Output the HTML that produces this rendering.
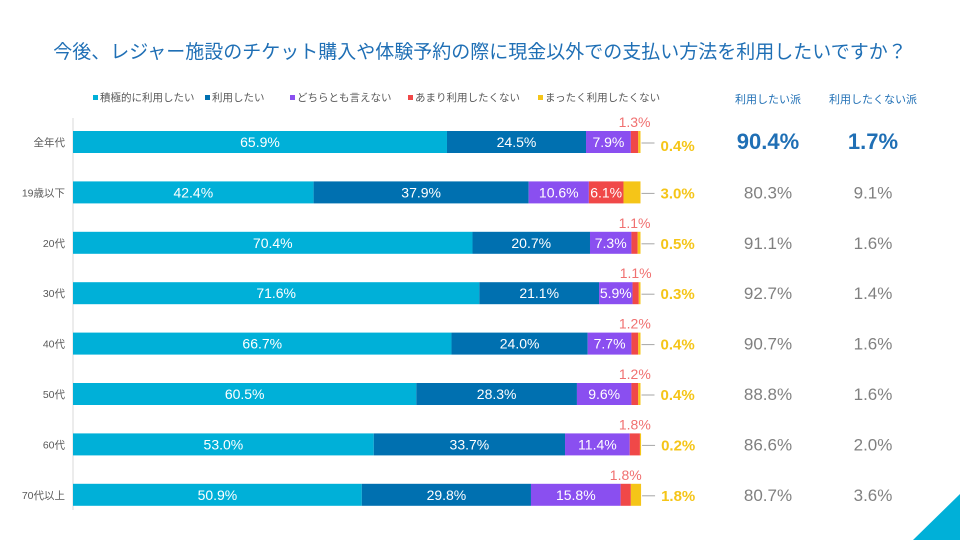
<!DOCTYPE html>
<html><head><meta charset="utf-8">
<style>
body{margin:0;background:#fff;}
svg{display:block;font-family:"Liberation Sans","Noto Sans CJK JP",sans-serif;}
</style></head>
<body>
<svg id="c" width="960" height="540">
<text x="480" y="58" text-anchor="middle" font-size="19" fill="#1f6fb5">今後、レジャー施設のチケット購入や体験予約の際に現金以外での支払い方法を利用したいですか？</text>
<text x="768" y="103" text-anchor="middle" font-size="11" fill="#1f6fb5">利用したい派</text>
<text x="873" y="103" text-anchor="middle" font-size="11" fill="#1f6fb5">利用したくない派</text>
<line x1="73" y1="118" x2="73" y2="510" stroke="#d9d9d9"/>
<polygon points="913,540 960,540 960,494" fill="#00b0d8"/>
<g id="legend"></g>
<g id="bars"></g>
</svg>
<script>
const categories=["全年代","19歳以下","20代","30代","40代","50代","60代","70代以上"];
const s1=[65.9,42.4,70.4,71.6,66.7,60.5,53.0,50.9];
const s2=[24.5,37.9,20.7,21.1,24.0,28.3,33.7,29.8];
const s3=[7.9,10.6,7.3,5.9,7.7,9.6,11.4,15.8];
const s4=[1.3,6.1,1.1,1.1,1.2,1.2,1.8,1.8];
const s5=[0.4,3.0,0.5,0.3,0.4,0.4,0.2,1.8];
const wantPct=[90.4,80.3,91.1,92.7,90.7,88.8,86.6,80.7];
const notPct=[1.7,9.1,1.6,1.4,1.6,1.6,2.0,3.6];
const seriesNames=["積極的に利用したい","利用したい","どちらとも言えない","あまり利用したくない","まったく利用したくない"];
const colors=["#00b0d8","#0070b0","#8a4ff0","#f04848","#f5c518"];
const NS="http://www.w3.org/2000/svg";
const x0=73,pxPer=5.675;
const xs=v=>v*pxPer;
const yc=i=>142+i*50.4;
function el(tag,attrs,parent,txt){const e=document.createElementNS(NS,tag);for(const k in attrs)e.setAttribute(k,attrs[k]);if(txt!==undefined)e.textContent=txt;parent.appendChild(e);return e;}
const lg=document.getElementById('legend');
const lx=[93,205,290,408,538];
seriesNames.forEach((n,j)=>{
 const r=el('rect',{x:lx[j],y:95,width:5,height:5,fill:colors[j]},lg);
 
 
 const t=el('text',{x:lx[j]+7,y:101,'font-size':10.5,fill:'#595959'},lg,n);
 
 
});
const g=document.getElementById('bars');
const series=[s1,s2,s3,s4,s5];
categories.forEach((c,i)=>{
 const y=yc(i),h=22;
 const t=el('text',{x:65,y:y+4,'text-anchor':'end','font-size':10.5,fill:'#595959'},g,c);
 
 
 let cx=x0;
 series.forEach((s,j)=>{
  const w=xs(s[i]);
  const r=el('rect',{x:cx,y:y-h/2,width:w,height:h,fill:colors[j]},g);
  
  
  if(j<3 || (j===3 && s[i]>3)){
   const l=el('text',{x:cx+w/2,y:y+5,'text-anchor':'middle','font-size':14,fill:'#fff'},g,s[i].toFixed(1)+'%');
   
   
  } else if(j===3){
   const l=el('text',{x:cx+w/2,y:y-15,'text-anchor':'middle','font-size':14,fill:'#f07070'},g,s[i].toFixed(1)+'%');
   
   
  }
  if(j===4){
   const ex=cx+w;
   const ln=el('line',{x1:ex+1,y1:y+1,x2:ex+14,y2:y+1,stroke:'#a6a6a6'},g);
   
   
   const l=el('text',{x:ex+20,y:y+(i===0?9:6),'font-size':15,'font-weight':'bold',fill:'#f5c518'},g,s[i].toFixed(1)+'%');
   
   
  }
  cx+=w;
 });
 const big=i===0;
 const a=el('text',{x:768,y:y+(big?7:6),'text-anchor':'middle','font-size':big?22:17,'font-weight':big?'bold':'normal',fill:big?'#1f6fb5':'#808080'},g,wantPct[i].toFixed(1)+'%');
 
 
 const b=el('text',{x:873,y:y+(big?7:6),'text-anchor':'middle','font-size':big?22:17,'font-weight':big?'bold':'normal',fill:big?'#1f6fb5':'#808080'},g,notPct[i].toFixed(1)+'%');
 
 
});
</script>
</body></html>
